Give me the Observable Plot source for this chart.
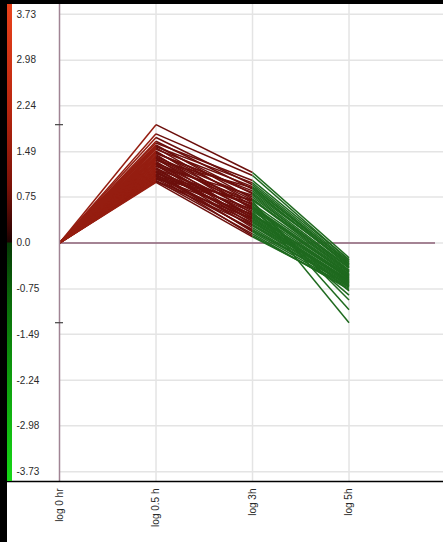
<!DOCTYPE html>
<html><head><meta charset="utf-8">
<script src="https://cdn.jsdelivr.net/npm/d3@7"></script>
<script src="https://cdn.jsdelivr.net/npm/@observablehq/plot@0.6"></script>
<style>
html,body{margin:0;padding:0;background:#000;width:443px;height:542px;overflow:hidden}
#wrap{position:absolute;left:7px;top:4px;width:436px;height:538px;background:#fff}
#wrap svg{position:absolute;left:0;top:0}
#bar{position:absolute;left:0;top:0;width:5px;height:477px;z-index:2;
background:linear-gradient(to bottom,#ea421b 0%,#b8260f 22%,#7c1208 38%,#3a0604 47%,#1c0202 49.9%,#063a06 50.1%,#0a6a0a 62%,#0e9c0e 78%,#16d816 100%)}
</style></head><body>
<div id="wrap"><div id="bar"></div></div>
<script>
const times = ["log 0 hr", "log 0.5 h", "log 3h", "log 5h"];
const baseline = 0;
const t05 = [1.93,1.78,1.72,1.66,1.63,1.60,1.58,1.55,1.53,1.50,1.48,1.46,1.44,1.42,1.40,1.38,1.36,1.35,1.33,1.31,1.30,1.28,1.26,1.25,1.23,1.21,1.20,1.18,1.16,1.15,1.13,1.12,1.10,1.09,1.08,1.06,1.05,1.04,1.02,1.01,1.00,0.99,1.47,1.39,1.29,1.17,1.11,1.57];
const t3  = [1.15,1.10,0.95,0.88,1.02,0.72,0.80,0.65,0.92,0.55,0.70,0.85,0.48,0.62,0.75,0.40,0.58,0.90,0.35,0.52,0.68,0.30,0.45,0.78,0.25,0.60,0.38,0.50,0.18,0.42,0.64,0.28,0.55,0.12,0.33,0.47,0.22,0.70,0.15,0.40,0.30,0.10,0.82,0.57,0.44,0.36,0.20,0.98];
const t5  = [-0.24,-0.28,-0.33,-0.38,-0.27,-0.45,-0.40,-0.93,-0.36,-0.52,-0.47,-0.35,-0.58,-1.30,-0.41,-0.60,-0.50,-0.31,-0.64,-0.55,-1.09,-0.66,-0.53,-0.44,-0.70,-0.48,-0.62,-0.85,-0.72,-0.57,-0.46,-0.68,-0.78,-0.74,-0.61,-0.56,-0.69,-0.39,-0.76,-0.63,-0.59,-0.71,-0.34,-0.51,-0.54,-0.65,-0.67,-0.30];
const yTicks = [3.73, 2.98, 2.24, 1.49, 0.75, 0, -0.75, -1.49, -2.24, -2.98, -3.73];
const yLimit = 3.89;
const segColors = ["#951d10", "#6c0f0c", "#1f6a1f"];

const series = [t05.map(() => baseline), t05, t3, t5];
const segments = [];
t05.forEach((_, i) => {
  for (let k = 0; k < 3; k++) {
    segments.push({x1: k, x2: k + 1, y1: series[k][i], y2: series[k + 1][i], seg: k});
  }
});
const idx = times.map((_, i) => i);
const yMax = d3.max(t05), yMin = d3.min(t5);

const chart = Plot.plot({
  width: 436, height: 538,
  marginLeft: 52, marginRight: 0, marginTop: 0, marginBottom: 61,
  style: {fontFamily: "'Liberation Sans', Arial, sans-serif", fontSize: "10px", background: "transparent", color: "#2a2a2a"},
  x: {domain: [0, 3.979], axis: null},
  y: {domain: [-yLimit, yLimit], axis: null},
  marks: [
    Plot.ruleY(yTicks, {stroke: "#e4e4e4", strokeWidth: 1.5}),
    Plot.ruleX(idx.slice(1), {stroke: "#e4e4e4", strokeWidth: 1.5}),
    Plot.ruleY([0], {stroke: "#5e1c3e", strokeWidth: 1.2, insetRight: 8}),
    ...[0, 1, 2].map(k => Plot.link(segments.filter(d => d.seg === k), {
      x1: "x1", y1: "y1", x2: "x2", y2: "y2", stroke: segColors[k], strokeWidth: 1.5
    })),
    Plot.ruleX([0], {stroke: "#a08494", strokeWidth: 1.5}),
    Plot.ruleY([yMax, yMin], {x1: 0, x2: 0, insetLeft: -4, insetRight: -4, stroke: "#444", strokeWidth: 1.2}),
    Plot.ruleY([-yLimit], {stroke: "#000", strokeWidth: 1.5, insetLeft: -52}),
    Plot.axisY({ticks: yTicks, tickSize: 0, tickPadding: 0, textAnchor: "start", dx: -43,
      tickFormat: d => d === 0 ? "0.0" : d.toFixed(2), fill: "#2a2a2a"}),
    Plot.axisX({ticks: idx, tickFormat: i => times[i], tickRotate: -90, tickSize: 0, tickPadding: 7, fill: "#2a2a2a"})
  ]
});
document.getElementById("wrap").appendChild(chart);
</script>
</body></html>
